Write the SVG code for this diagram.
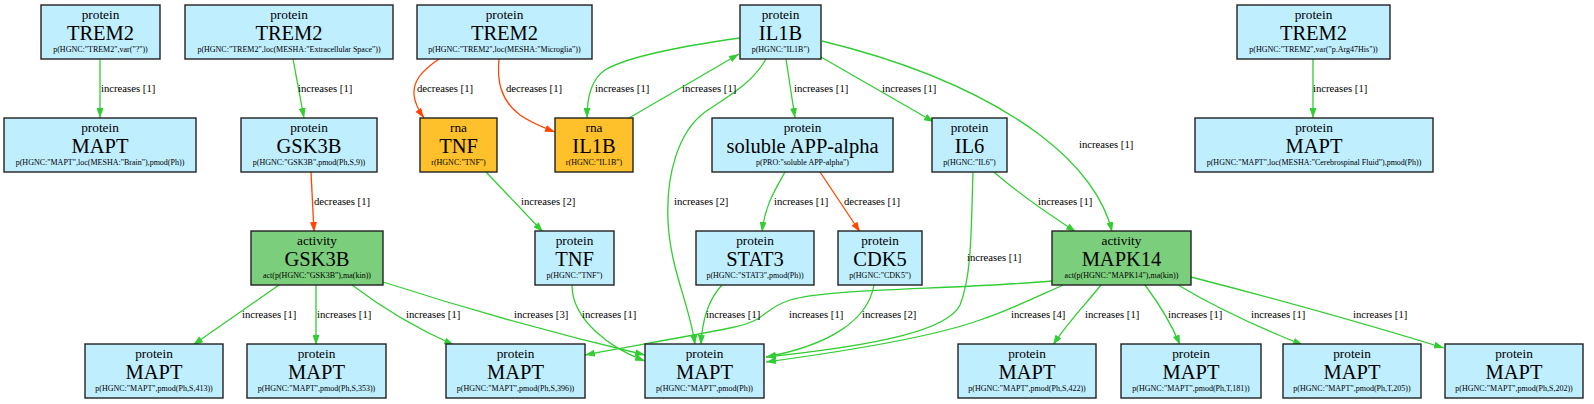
<svg xmlns="http://www.w3.org/2000/svg" width="1594" height="404" viewBox="0 0 1594 404" font-family="'Liberation Serif','Times New Roman','DejaVu Serif',serif">
<defs>
<marker id="ag" viewBox="0 0 10 7" refX="10" refY="3.5" markerWidth="10" markerHeight="7" markerUnits="userSpaceOnUse" orient="auto"><path d="M0,0 L10,3.5 L0,7 z" fill="#32cd32"/></marker>
<marker id="ar" viewBox="0 0 10 7" refX="10" refY="3.5" markerWidth="10" markerHeight="7" markerUnits="userSpaceOnUse" orient="auto"><path d="M0,0 L10,3.5 L0,7 z" fill="#ff4500"/></marker>
<style>
text{font-family:'Liberation Serif','Times New Roman','DejaVu Serif',serif}
.e path{fill:none;stroke-width:1.3}
.inc{stroke:#32cd32;marker-end:url(#ag)}
.dec{stroke:#ff4500;marker-end:url(#ar)}
.e text{font-size:10.7px;fill:#000}
.node rect{stroke:#222;stroke-width:1.4}
.protein rect{fill:#bfeeff}
.rna rect{fill:#fec02b}
.activity rect{fill:#7bce7b}
.node text{text-anchor:middle;fill:#000}
.t{font-size:13.3px}
.m{font-size:20.5px}
.s{font-size:8px}
</style>
</defs>
<rect width="1594" height="404" fill="#fff"/>
<g id="connectors" class="e">
<path class="inc" d="M100,59 L100,118"/>
<path class="inc" d="M293,59 L304,118"/>
<path class="dec" d="M439,59 C420,72 413,82 414,95 C415,104 419,111 424,118"/>
<path class="dec" d="M499,59 C497,80 500,100 520,115 C530,122 542,127 555,132"/>
<path class="inc" d="M740,38 C690,45 630,55 605,70 C590,80 587,100 587,118"/>
<path class="inc" d="M629,118 L739,54"/>
<path class="inc" d="M786,59 L795,118"/>
<path class="inc" d="M821,57 L934,122"/>
<path class="inc" d="M822,41 C900,60 980,90 1040,135 C1080,165 1105,200 1112,232"/>
<path class="inc" d="M766,59 C752,84 725,98 705,112 C678,132 666,175 668,220 C670,270 690,305 695,345"/>
<path class="inc" d="M1313,59 L1313,118"/>
<path class="dec" d="M311,172 L314,232"/>
<path class="inc" d="M486,172 L543,232"/>
<path class="inc" d="M785,172 C775,190 765,205 762,232"/>
<path class="dec" d="M820,172 L860,232"/>
<path class="inc" d="M994,172 C1020,195 1050,215 1076,232"/>
<path class="inc" d="M973,172 C971,230 972,275 960,305 C948,330 880,345 766,357"/>
<path class="inc" d="M279,285 L193,345"/>
<path class="inc" d="M316,285 L316,345"/>
<path class="inc" d="M352,285 C385,310 420,330 454,345"/>
<path class="inc" d="M383,282 C470,310 560,335 645,355"/>
<path class="inc" d="M572,285 C572,320 610,348 645,361"/>
<path class="inc" d="M722,285 C708,300 702,320 701,345"/>
<path class="inc" d="M874,285 C868,320 830,345 766,357"/>
<path class="inc" d="M1052,281 C950,290 830,288 790,300 C760,310 770,320 730,328 C680,338 620,348 585,355"/>
<path class="inc" d="M1063,285 C1030,300 1010,310 980,320 C930,338 840,352 766,362"/>
<path class="inc" d="M1101,285 C1085,305 1068,322 1053,345"/>
<path class="inc" d="M1145,285 C1160,305 1172,325 1180,345"/>
<path class="inc" d="M1178,285 C1220,310 1260,328 1303,345"/>
<path class="inc" d="M1191,277 C1280,300 1360,322 1444,348"/>
<text x="101" y="92">increases [1]</text>
<text x="298" y="92">increases [1]</text>
<text x="417" y="92">decreases [1]</text>
<text x="506" y="92">decreases [1]</text>
<text x="595" y="92">increases [1]</text>
<text x="682" y="92">increases [1]</text>
<text x="794" y="92">increases [1]</text>
<text x="882" y="92">increases [1]</text>
<text x="1079" y="148">increases [1]</text>
<text x="674" y="205">increases [2]</text>
<text x="1313" y="92">increases [1]</text>
<text x="314" y="205">decreases [1]</text>
<text x="521" y="205">increases [2]</text>
<text x="774" y="205">increases [1]</text>
<text x="844" y="205">decreases [1]</text>
<text x="1038" y="205">increases [1]</text>
<text x="967" y="261">increases [1]</text>
<text x="242" y="318">increases [1]</text>
<text x="317" y="318">increases [1]</text>
<text x="406" y="318">increases [1]</text>
<text x="514" y="318">increases [3]</text>
<text x="582" y="318">increases [1]</text>
<text x="706" y="318">increases [1]</text>
<text x="789" y="318">increases [1]</text>
<text x="862" y="318">increases [2]</text>
<text x="1011" y="318">increases [4]</text>
<text x="1085" y="318">increases [1]</text>
<text x="1168" y="318">increases [1]</text>
<text x="1251" y="318">increases [1]</text>
<text x="1353" y="318">increases [1]</text>
</g>
<g id="n1" class="node protein"><rect x="41" y="5" width="119" height="54"/><text class="t" x="100.5" y="19">protein</text><text class="m" x="100.5" y="40">TREM2</text><text class="s" x="100.5" y="52">p(HGNC:"TREM2",var("?"))</text></g>
<g id="n2" class="node protein"><rect x="185" y="5" width="208" height="54"/><text class="t" x="289" y="19">protein</text><text class="m" x="289" y="40">TREM2</text><text class="s" x="289" y="52">p(HGNC:"TREM2",loc(MESHA:"Extracellular Space"))</text></g>
<g id="n3" class="node protein"><rect x="417" y="5" width="175" height="54"/><text class="t" x="504.5" y="19">protein</text><text class="m" x="504.5" y="40">TREM2</text><text class="s" x="504.5" y="52">p(HGNC:"TREM2",loc(MESHA:"Microglia"))</text></g>
<g id="n4" class="node protein"><rect x="740" y="5" width="81" height="54"/><text class="t" x="780.5" y="19">protein</text><text class="m" x="780.5" y="40">IL1B</text><text class="s" x="780.5" y="52">p(HGNC:"IL1B")</text></g>
<g id="n5" class="node protein"><rect x="1237" y="5" width="153" height="54"/><text class="t" x="1313.5" y="19">protein</text><text class="m" x="1313.5" y="40">TREM2</text><text class="s" x="1313.5" y="52">p(HGNC:"TREM2",var("p.Arg47His"))</text></g>
<g id="n6" class="node protein"><rect x="4" y="118" width="192" height="54"/><text class="t" x="100" y="132">protein</text><text class="m" x="100" y="153">MAPT</text><text class="s" x="100" y="165">p(HGNC:"MAPT",loc(MESHA:"Brain"),pmod(Ph))</text></g>
<g id="n7" class="node protein"><rect x="241" y="118" width="136" height="54"/><text class="t" x="309" y="132">protein</text><text class="m" x="309" y="153">GSK3B</text><text class="s" x="309" y="165">p(HGNC:"GSK3B",pmod(Ph,S,9))</text></g>
<g id="n8" class="node rna"><rect x="420" y="118" width="77" height="54"/><text class="t" x="458.5" y="132">rna</text><text class="m" x="458.5" y="153">TNF</text><text class="s" x="458.5" y="165">r(HGNC:"TNF")</text></g>
<g id="n9" class="node rna"><rect x="555" y="118" width="78" height="54"/><text class="t" x="594" y="132">rna</text><text class="m" x="594" y="153">IL1B</text><text class="s" x="594" y="165">r(HGNC:"IL1B")</text></g>
<g id="n10" class="node protein"><rect x="712" y="118" width="181" height="54"/><text class="t" x="802.5" y="132">protein</text><text class="m" x="802.5" y="153">soluble APP-alpha</text><text class="s" x="802.5" y="165">p(PRO:"soluble APP-alpha")</text></g>
<g id="n11" class="node protein"><rect x="932" y="118" width="75" height="54"/><text class="t" x="969.5" y="132">protein</text><text class="m" x="969.5" y="153">IL6</text><text class="s" x="969.5" y="165">p(HGNC:"IL6")</text></g>
<g id="n12" class="node protein"><rect x="1195" y="118" width="238" height="54"/><text class="t" x="1314" y="132">protein</text><text class="m" x="1314" y="153">MAPT</text><text class="s" x="1314" y="165">p(HGNC:"MAPT",loc(MESHA:"Cerebrospinal Fluid"),pmod(Ph))</text></g>
<g id="n13" class="node activity"><rect x="251" y="231" width="132" height="54"/><text class="t" x="317" y="245">activity</text><text class="m" x="317" y="266">GSK3B</text><text class="s" x="317" y="278">act(p(HGNC:"GSK3B"),ma(kin))</text></g>
<g id="n14" class="node protein"><rect x="535" y="231" width="79" height="54"/><text class="t" x="574.5" y="245">protein</text><text class="m" x="574.5" y="266">TNF</text><text class="s" x="574.5" y="278">p(HGNC:"TNF")</text></g>
<g id="n15" class="node protein"><rect x="696" y="231" width="118" height="54"/><text class="t" x="755" y="245">protein</text><text class="m" x="755" y="266">STAT3</text><text class="s" x="755" y="278">p(HGNC:"STAT3",pmod(Ph))</text></g>
<g id="n16" class="node protein"><rect x="838" y="231" width="84" height="54"/><text class="t" x="880" y="245">protein</text><text class="m" x="880" y="266">CDK5</text><text class="s" x="880" y="278">p(HGNC:"CDK5")</text></g>
<g id="n17" class="node activity"><rect x="1052" y="231" width="139" height="54"/><text class="t" x="1121.5" y="245">activity</text><text class="m" x="1121.5" y="266">MAPK14</text><text class="s" x="1121.5" y="278">act(p(HGNC:"MAPK14"),ma(kin))</text></g>
<g id="n18" class="node protein"><rect x="85" y="344" width="138" height="54"/><text class="t" x="154" y="358">protein</text><text class="m" x="154" y="379">MAPT</text><text class="s" x="154" y="391">p(HGNC:"MAPT",pmod(Ph,S,413))</text></g>
<g id="n19" class="node protein"><rect x="247" y="344" width="139" height="54"/><text class="t" x="316.5" y="358">protein</text><text class="m" x="316.5" y="379">MAPT</text><text class="s" x="316.5" y="391">p(HGNC:"MAPT",pmod(Ph,S,353))</text></g>
<g id="n20" class="node protein"><rect x="446" y="344" width="139" height="54"/><text class="t" x="515.5" y="358">protein</text><text class="m" x="515.5" y="379">MAPT</text><text class="s" x="515.5" y="391">p(HGNC:"MAPT",pmod(Ph,S,396))</text></g>
<g id="n21" class="node protein"><rect x="645" y="344" width="119" height="54"/><text class="t" x="704.5" y="358">protein</text><text class="m" x="704.5" y="379">MAPT</text><text class="s" x="704.5" y="391">p(HGNC:"MAPT",pmod(Ph))</text></g>
<g id="n22" class="node protein"><rect x="958" y="344" width="138" height="54"/><text class="t" x="1027" y="358">protein</text><text class="m" x="1027" y="379">MAPT</text><text class="s" x="1027" y="391">p(HGNC:"MAPT",pmod(Ph,S,422))</text></g>
<g id="n23" class="node protein"><rect x="1121" y="344" width="140" height="54"/><text class="t" x="1191" y="358">protein</text><text class="m" x="1191" y="379">MAPT</text><text class="s" x="1191" y="391">p(HGNC:"MAPT",pmod(Ph,T,181))</text></g>
<g id="n24" class="node protein"><rect x="1283" y="344" width="138" height="54"/><text class="t" x="1352" y="358">protein</text><text class="m" x="1352" y="379">MAPT</text><text class="s" x="1352" y="391">p(HGNC:"MAPT",pmod(Ph,T,205))</text></g>
<g id="n25" class="node protein"><rect x="1445" y="344" width="138" height="54"/><text class="t" x="1514" y="358">protein</text><text class="m" x="1514" y="379">MAPT</text><text class="s" x="1514" y="391">p(HGNC:"MAPT",pmod(Ph,S,202))</text></g>
</svg>
